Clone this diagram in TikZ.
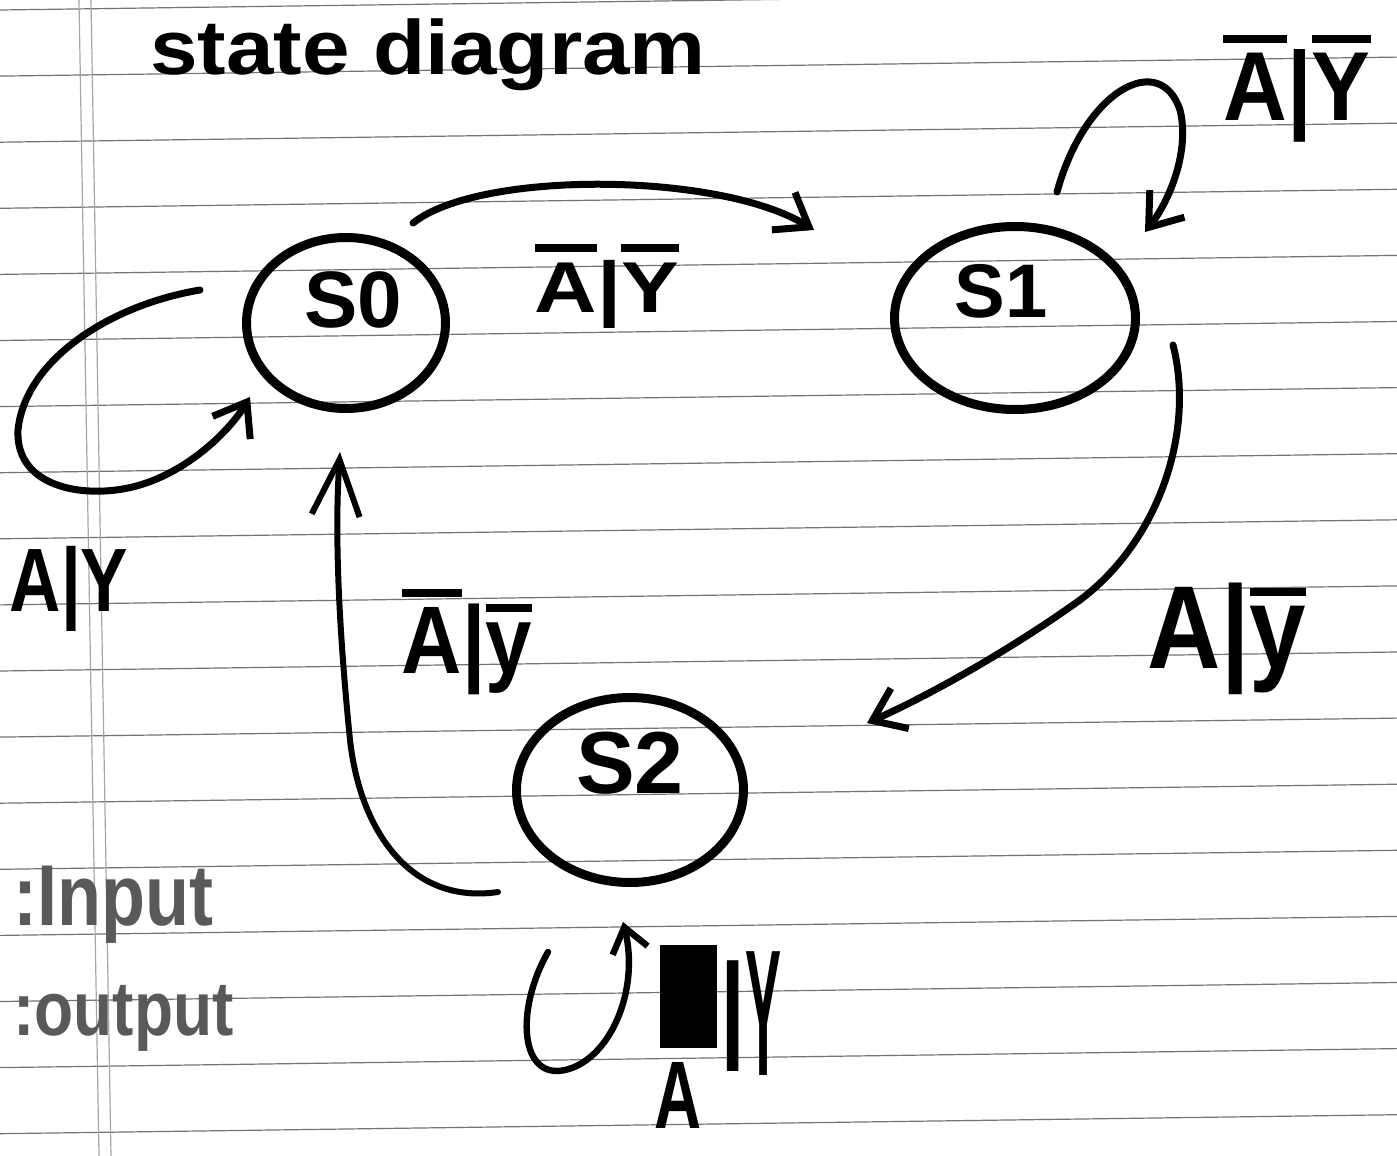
\documentclass[tikz,border=0pt]{standalone}
\usepackage{graphicx}
\usepackage{fontspec}
\setmainfont{Liberation Sans}
\usetikzlibrary{shapes.geometric,arrows.meta}
\newcommand\ovl[1]{\leavevmode\vbox{\hrule height 4pt\kern 5pt\hbox{#1}}}
\newcommand\stxt[3]{\raisebox{#2}[0pt][0pt]{\makebox[0pt]{\hspace{#1}#3}}}
\begin{document}
\begin{tikzpicture}[x=0.5pt,y=-0.5pt,
  state/.style={draw, ellipse, line width=4.5pt, inner sep=0pt, font=\bfseries\fontsize{40}{44}\selectfont},
  edge/.style={line width=3.5pt, line cap=round, -{Straight Barb[length=15pt,width=22pt]}},
  lbl/.style={inner sep=0pt, anchor=base},
  paperline/.style={black!55, line width=0.6pt},
  margin/.style={black!35, line width=0.6pt}]
\useasboundingbox (0,0) rectangle (1397,1156);
\clip (0,0) rectangle (1397,1156);
\fill[white] (0,0) rectangle (1397,1156);
% ruled paper
\foreach \k in {0,...,17} \draw[paperline] (0,{10+66.1*\k}) -- (1397,{10+66.1*\k-19});
\draw[margin] (79,0) -- (99,1156);
\draw[margin] (91,0) -- (111,1156);
% title
\node[lbl, font=\bfseries\fontsize{38.5}{40}\selectfont] (title) at (428,75) {\scalebox{1.11}[1]{state diagram}};
% states
\node[state, minimum width=99.5pt, minimum height=85.5pt] (s0) at (346,323) {\stxt{7pt}{-2pt}{S0}};
\node[state, minimum width=120.5pt, minimum height=91.5pt, font=\bfseries\fontsize{38}{40}\selectfont] (s1) at (1015,318) {\stxt{-14pt}{0.5pt}{S1}};
\node[state, minimum width=113.5pt, minimum height=92.5pt, font=\bfseries\fontsize{44}{48}\selectfont] (s2) at (630,790) {\stxt{0pt}{-1.5pt}{S2}};
% connector ends
\coordinate (a00) at (200,290); \coordinate (b00) at (250,397);
\coordinate (a01) at (413,223); \coordinate (b01) at (814,230);
\coordinate (a11) at (1057,192); \coordinate (b11) at (1145,232);
\coordinate (a12) at (1173,345); \coordinate (b12) at (867,723);
\coordinate (a20) at (498,892); \coordinate (b20) at (340,452);
\coordinate (a22) at (548,952); \coordinate (b22) at (623,922);
% connectors
\draw[edge] (a00) .. controls (110,305) and (25,360) .. (18,430) .. controls (15,490) and (90,500) .. (140,485) .. controls (190,470) and (230,430) .. (b00);
\draw[edge] (a01) .. controls (480,170) and (720,172) .. (b01);
\draw[edge] (a11) .. controls (1085,90) and (1160,50) .. (1180,110) .. controls (1190,150) and (1170,200) .. (b11);
\draw[edge] (a12) .. controls (1195,430) and (1160,540) .. (1080,600) .. controls (1010,650) and (930,695) .. (b12);
\draw[edge, line width=3pt, -{Straight Barb[length=28pt,width=24pt]}] (a20) .. controls (410,905) and (360,830) .. (350,740) .. controls (340,640) and (334,540) .. (b20);
\draw[edge, line width=3.2pt, -{Straight Barb[length=12pt,width=18pt]}] (a22) .. controls (515,1010) and (520,1080) .. (565,1070) .. controls (610,1060) and (640,990) .. (b22);
% labels
\node[lbl, font=\bfseries\fontsize{45}{50}\selectfont] (l00) at (69,611) {\scalebox{0.79}[1]{A|Y}};
\node[lbl, font=\bfseries\fontsize{36}{40}\selectfont] (l01) at (607,312) {\scalebox{1.2}[1]{\ovl{A}|\ovl{Y}}};
\node[lbl, font=\bfseries\fontsize{49}{52}\selectfont] (l11) at (1297,120) {\scalebox{0.9}[1]{\ovl{A}|\ovl{Y}}};
\node[lbl, font=\bfseries\fontsize{59}{62}\selectfont] (l12) at (1227,668) {\scalebox{0.86}[1]{A|\ovl{y}}};
\node[lbl, font=\bfseries\fontsize{48}{50}\selectfont] (l20) at (467,673) {\scalebox{0.87}[1]{\ovl{A}|\ovl{y}}};
\node[fill=black, inner sep=0pt, minimum width=28.5pt, minimum height=51.5pt] (blot) at (688,996) {};
\node[lbl, anchor=base west, font=\bfseries\fontsize{45}{50}\selectfont] (l22) at (720,1075) {\raisebox{15pt}{\scalebox{1}[1.3]{|}}\scalebox{0.6}[2]{Y}};
\node[lbl, font=\bfseries\fontsize{48}{52}\selectfont] (l22a) at (678,1128) {\scalebox{0.68}[1]{A}};
\node[lbl, anchor=base west, text=black!65, font=\bfseries\fontsize{36}{40}\selectfont] (kin) at (13,925) {\scalebox{1}[1.2]{:Input}};
\node[lbl, anchor=base west, text=black!65, font=\bfseries\fontsize{32}{36}\selectfont] (kout) at (13,1035) {\scalebox{1}[1.2]{:output}};
\end{tikzpicture}
\end{document}
